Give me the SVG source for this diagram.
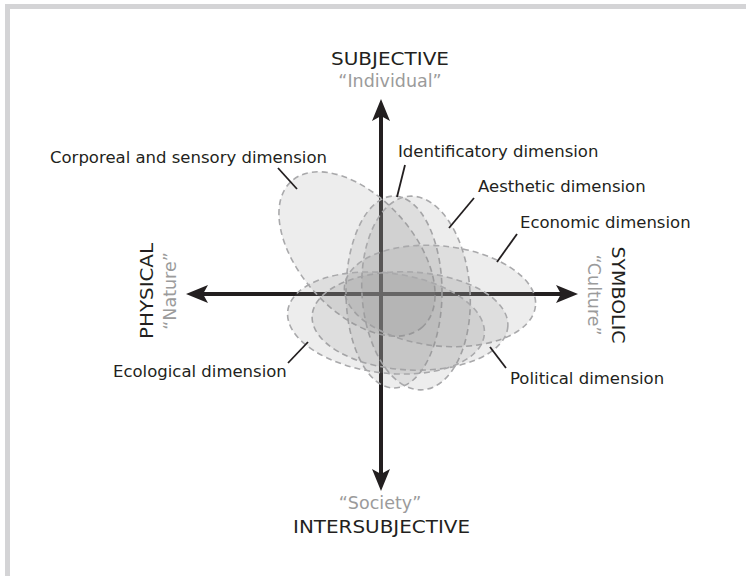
<svg xmlns="http://www.w3.org/2000/svg" width="746" height="576" viewBox="0 0 746 576">
<defs>
<style>
text{font-family:"DejaVu Sans",Verdana,sans-serif;}
.lbl{font-size:16.5px;fill:#231f20;}
.ax{font-size:17px;fill:#231f20;}
.sub{font-size:17.5px;fill:#9b9b9b;}
.dim{fill:#8c8c92;fill-opacity:0.16;stroke:#a9a9ab;stroke-width:1.6;stroke-dasharray:6 4;}
.lead{stroke:#231f20;stroke-width:1.8;fill:none;}
.axis{stroke:#231f20;stroke-width:4;fill:none;}
</style>
<marker id="ah" viewBox="0 -10 22 20" refX="12" refY="0" markerWidth="22" markerHeight="20" markerUnits="userSpaceOnUse" orient="auto-start-reverse"><path d="M0,-9 L22,0 L0,9 L5,0 Z" fill="#231f20"/></marker>
</defs>
<rect width="746" height="576" fill="#ffffff"/>
<path d="M7.5,576 V6.5 H746" fill="none" stroke="#d4d4d6" stroke-width="5"/>
<g id="axes">
<line class="axis" x1="381" y1="109" x2="381" y2="481" marker-start="url(#ah)" marker-end="url(#ah)"/>
<line class="axis" x1="196" y1="294" x2="568" y2="294" marker-start="url(#ah)" marker-end="url(#ah)"/>
</g>
<g id="corporeal"><ellipse class="dim" cx="357" cy="254" rx="98" ry="57" transform="rotate(48 357 254)"/><text class="lbl" x="50" y="163">Corporeal and sensory dimension</text></g>
<g id="identificatory"><ellipse class="dim" cx="394" cy="292" rx="48" ry="96"/><text class="lbl" x="398" y="157">Identificatory dimension</text></g>
<g id="aesthetic"><ellipse class="dim" cx="416" cy="293" rx="54" ry="97" transform="rotate(-4 416 293)"/><text class="lbl" x="478" y="192">Aesthetic dimension</text></g>
<g id="economic"><ellipse class="dim" cx="440" cy="296" rx="96" ry="50" transform="rotate(6 440 296)"/><text class="lbl" x="520" y="228">Economic dimension</text></g>
<g id="political"><ellipse class="dim" cx="410" cy="321" rx="98" ry="49" transform="rotate(3 410 321)"/><text class="lbl" x="510" y="384">Political dimension</text></g>
<g id="ecological"><ellipse class="dim" cx="386" cy="323" rx="99" ry="50" transform="rotate(7 386 323)"/><text class="lbl" x="113" y="377">Ecological dimension</text></g>
<g id="connectors">
<line class="lead" x1="278" y1="168" x2="297" y2="189"/>
<line class="lead" x1="405" y1="165" x2="397" y2="197"/>
<line class="lead" x1="474" y1="198" x2="449" y2="228"/>
<line class="lead" x1="517" y1="234" x2="497" y2="262"/>
<line class="lead" x1="490" y1="347" x2="506" y2="368"/>
<line class="lead" x1="308" y1="342" x2="288" y2="363"/>
</g>
<g id="subjective"><text class="ax" x="390" y="65" text-anchor="middle" textLength="118" lengthAdjust="spacingAndGlyphs">SUBJECTIVE</text><text class="sub" x="390" y="87" text-anchor="middle">“Individual”</text></g>
<g id="intersubjective"><text class="sub" x="380" y="509" text-anchor="middle">“Society”</text><text class="ax" x="381.5" y="533" text-anchor="middle" textLength="177" lengthAdjust="spacingAndGlyphs">INTERSUBJECTIVE</text></g>
<g id="physical"><text class="ax" transform="translate(153 291) rotate(-90)" text-anchor="middle" textLength="96" lengthAdjust="spacingAndGlyphs">PHYSICAL</text><text class="sub" transform="translate(176 291) rotate(-90)" text-anchor="middle">“Nature”</text></g>
<g id="symbolic"><text class="ax" transform="translate(612 295) rotate(90)" text-anchor="middle" textLength="97" lengthAdjust="spacingAndGlyphs">SYMBOLIC</text><text class="sub" transform="translate(588 295) rotate(90)" text-anchor="middle">“Culture”</text></g>
</svg>
